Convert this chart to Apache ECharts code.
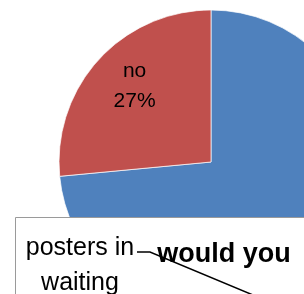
<!DOCTYPE html>
<html>
<head>
<meta charset="utf-8">
<script src="https://cdn.jsdelivr.net/npm/echarts@6/dist/echarts.min.js"></script>
<style>
  html, body { margin: 0; padding: 0; background: #fff; }
  #chart { width: 304px; height: 294px; }
</style>
</head>
<body>
<div id="chart"></div>
<script>
// slice data
const categories = ["yes", "no"]
const shares = [73.5, 26.5]
const sliceColors = ["#4F81BD", "#C0504D"]
// texts of the partly visible box below the pie
const boxLabel = ["posters in", "waiting"]
const boxTitle = "would you"

const myChart = echarts.init(document.getElementById("chart"))
const font = "Liberation Sans"

myChart.setOption({
  animation: false,
  series: [{
    type: "pie",
    center: [211, 162],
    radius: 152,
    startAngle: 90,
    clockwise: true,
    data: categories.map((name, i) => ({
      name,
      value: shares[i],
      itemStyle: { color: sliceColors[i] },
      label: { show: name === "no" }
    })),
    itemStyle: { borderColor: "#fff", borderWidth: 0.7 },
    label: {
      position: "inside",
      formatter: (p) => p.name + "\n" + Math.round(p.percent) + "%",
      fontFamily: font,
      fontSize: 21,
      lineHeight: 30,
      color: "#000"
    },
    labelLayout: { dx: -18, dy: -23 },
    labelLine: { show: false },
    emphasis: { disabled: true }
  }],
  graphic: [
    {
      type: "rect", z: 100,
      shape: { x: 15.5, y: 217.5, width: 320, height: 120 },
      style: { fill: "#fff", stroke: "#9a9a9a", lineWidth: 1 }
    },
    {
      type: "polyline", z: 101,
      shape: { points: [[137, 252], [150, 252], [253, 295]] },
      style: { stroke: "#000", lineWidth: 1.5, fill: null }
    },
    {
      type: "text", z: 102,
      style: {
        text: boxLabel.join("\n"), x: 80, y: 231, textAlign: "center",
        textVerticalAlign: "top",
        fontFamily: font, fontSize: 25, lineHeight: 35, fill: "#000"
      }
    },
    {
      type: "text", z: 103,
      style: {
        text: boxTitle, x: 224, y: 268, textAlign: "center",
        textVerticalAlign: "bottom",
        fontFamily: font, fontSize: 27, fontWeight: "bold", fill: "#000"
      }
    }
  ]
})
</script>
</body>
</html>
